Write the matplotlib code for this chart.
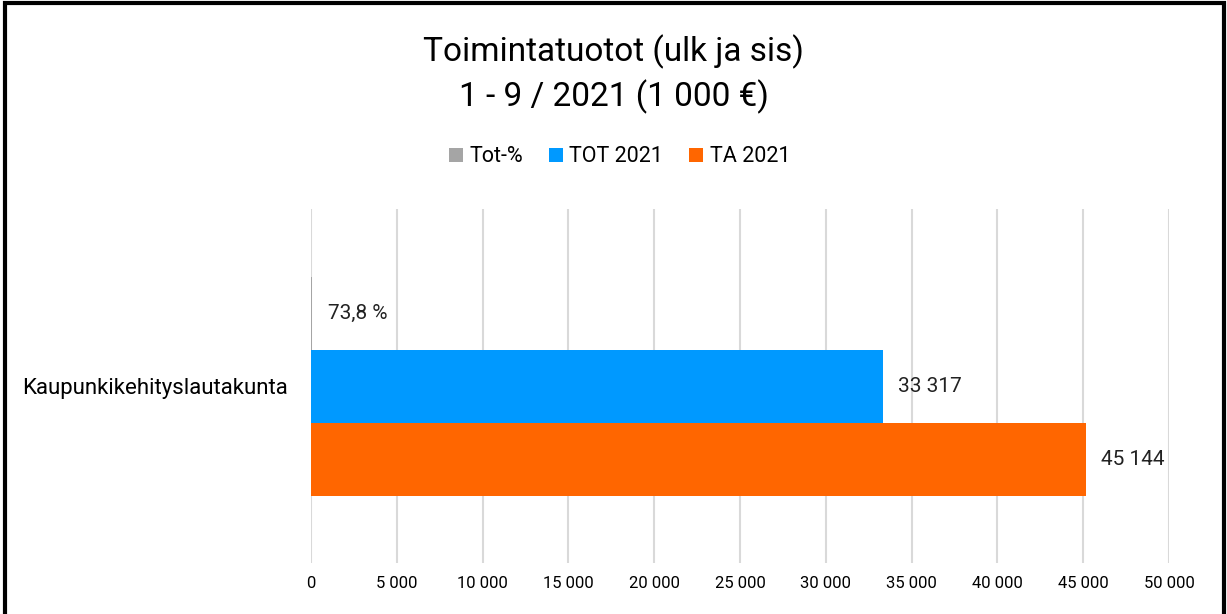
import matplotlib.pyplot as plt
from matplotlib.patches import Rectangle
from matplotlib.ticker import FuncFormatter, MultipleLocator

# Data
category = 'Kaupunkikehityslautakunta'
series_names = ['Tot-%', 'TOT 2021', 'TA 2021']
series_values = [73.8, 33317, 45144]
series_labels = ['73,8 %', '33 317', '45 144']
colors = ['#A5A5A5', '#0099FF', '#FF6600']

FONT = ['Roboto', 'DejaVu Sans']
plt.rcParams['font.family'] = FONT

fig = plt.figure(figsize=(12.27, 6.14), dpi=100)
ax = fig.add_axes([311 / 1227, 1 - 563 / 614, (1169 - 311) / 1227, (563 - 209) / 614])

# one category, three bars stacked top-to-bottom
offsets = [1, 0, -1]
bars = []
for name, val, col, off in zip(series_names, series_values, colors, offsets):
    b = ax.barh(off, val, height=1.0, color=col, label=name, zorder=3)
    bars.append(b)

for b, lab in zip(bars, series_labels):
    ax.bar_label(b, labels=[lab], padding=11, fontsize=15, color='#222222')

ax.set_xlim(0, 50000)
ax.set_ylim(-2.42, 2.43)
ax.xaxis.set_major_locator(MultipleLocator(5000))
ax.xaxis.set_major_formatter(FuncFormatter(lambda v, p: f'{int(v):,}'.replace(',', ' ')))
ax.grid(axis='x', color='#D9D9D9', linewidth=1.5, zorder=0)
ax.tick_params(axis='x', length=0, pad=9, labelsize=12)

ax.set_yticks([0])
ax.set_yticklabels([category], fontsize=16)
ax.tick_params(axis='y', length=0, pad=17)
for s in ax.spines.values():
    s.set_visible(False)

# title
fig.text(0.5, 1 - 52 / 614, 'Toimintatuotot (ulk ja sis)', ha='center', va='center', fontsize=24)
fig.text(0.5, 1 - 97 / 614, '1 - 9 / 2021 (1 000 €)', ha='center', va='center', fontsize=24)

# legend
leg = fig.legend(handles=[b[0] for b in bars], labels=series_names, ncol=3,
                 loc='center', bbox_to_anchor=(0.505, 1 - 157 / 614), frameon=False,
                 handlelength=0.65, handleheight=0.65, handletextpad=0.3, columnspacing=1.2,
                 prop={'size': 15.5})

# border around the chart
fig.add_artist(Rectangle((5 / 1227, -0.02), 1219 / 1227, 1.0 - 3 / 614 + 0.02,
                         transform=fig.transFigure, fill=False, edgecolor='black',
                         linewidth=3, clip_on=False))

fig.savefig('out.png', dpi=100)
